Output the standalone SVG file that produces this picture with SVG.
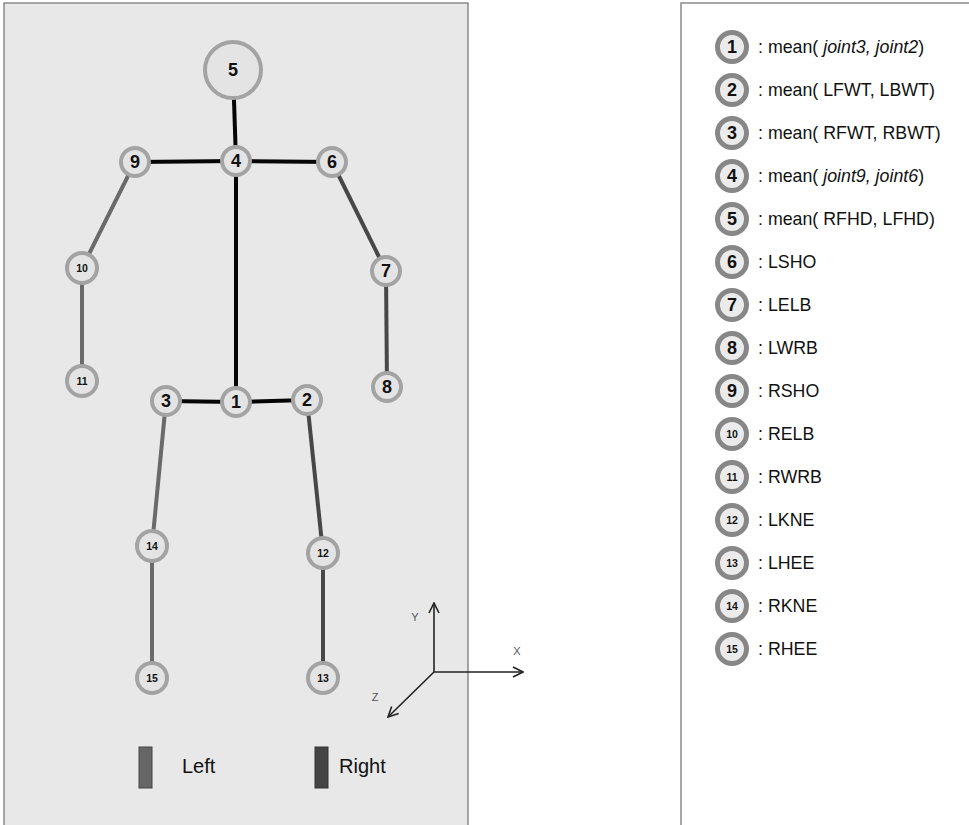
<svg xmlns="http://www.w3.org/2000/svg" width="969" height="825" viewBox="0 0 969 825">
  <style>
    .panel { fill: #e8e8e8; stroke: #8a8a8a; stroke-width: 1.5; }
    .key-panel { fill: #ffffff; stroke: #8a8a8a; stroke-width: 1.5; }
    .joint { fill: #e4e4e4; stroke: #a3a3a3; stroke-width: 4; }
    .key-joint { fill: #ebebeb; stroke: #878787; stroke-width: 5; }
    .num { font-family: "Liberation Sans", Arial, sans-serif; font-weight: bold; fill: #111; text-anchor: middle; dominant-baseline: central; }
    .big { font-size: 18px; }
    .small { font-size: 10.5px; }
    .bone { stroke-linecap: butt; stroke-width: 4; fill: none; }
    .spine { stroke: #050505; }
    .limb-a { stroke: #6a6a6a; }
    .limb-b { stroke: #474747; }
    .axis { stroke: #222; stroke-width: 1.6; fill: none; }
    .axis-label { font-family: "Liberation Sans", Arial, sans-serif; font-size: 11px; fill: #555; text-anchor: middle; dominant-baseline: central; }
    .legend-text { font-family: "Liberation Sans", Arial, sans-serif; font-size: 20px; fill: #111; }
    .key-text { font-family: "Liberation Sans", Arial, sans-serif; font-size: 17.8px; fill: #111; dominant-baseline: central; }
    .it { font-style: italic; }
  </style>
  <defs>
    <marker id="open-arrow" viewBox="0 0 12 12" refX="11" refY="6" markerWidth="12" markerHeight="12" markerUnits="userSpaceOnUse" orient="auto">
      <path d="M1,1 L11,6 L1,11" fill="none" stroke="#222" stroke-width="1.6"/>
    </marker>
  </defs>

  <!-- skeleton panel -->
  <rect class="panel" x="4" y="3" width="464" height="830"/>
  <!-- key panel -->
  <rect class="key-panel" x="681" y="3" width="300" height="830"/>

  <!-- bones -->
  <g id="connectors">
    <line class="bone spine" x1="233" y1="70" x2="236" y2="161"/>
    <line class="bone spine" x1="135" y1="162" x2="236" y2="161"/>
    <line class="bone spine" x1="236" y1="161" x2="332" y2="162"/>
    <line class="bone spine" x1="236" y1="161" x2="236" y2="402"/>
    <line class="bone spine" x1="166" y1="401" x2="236" y2="402"/>
    <line class="bone spine" x1="236" y1="402" x2="307" y2="400"/>
    <line class="bone limb-a" x1="135" y1="162" x2="82" y2="268"/>
    <line class="bone limb-a" x1="82" y1="268" x2="82" y2="381"/>
    <line class="bone limb-b" x1="332" y1="162" x2="386" y2="271"/>
    <line class="bone limb-b" x1="386" y1="271" x2="387" y2="387"/>
    <line class="bone limb-a" x1="166" y1="401" x2="152" y2="546"/>
    <line class="bone limb-a" x1="152" y1="546" x2="152" y2="678"/>
    <line class="bone limb-b" x1="307" y1="400" x2="323" y2="553"/>
    <line class="bone limb-b" x1="323" y1="553" x2="323" y2="678"/>
  </g>

  <!-- joints -->
  <g id="joint5"><circle class="joint" cx="233" cy="70" r="28"/><text class="num big" x="233" y="70">5</text></g>
  <g id="joint4"><circle class="joint" cx="236" cy="161" r="14"/><text class="num big" x="236" y="161">4</text></g>
  <g id="joint9"><circle class="joint" cx="135" cy="162" r="14"/><text class="num big" x="135" y="162">9</text></g>
  <g id="joint6"><circle class="joint" cx="332" cy="162" r="14"/><text class="num big" x="332" y="162">6</text></g>
  <g id="joint10"><circle class="joint" cx="82" cy="268" r="15"/><text class="num small" x="82" y="268">10</text></g>
  <g id="joint7"><circle class="joint" cx="386" cy="271" r="14"/><text class="num big" x="386" y="271">7</text></g>
  <g id="joint11"><circle class="joint" cx="82" cy="381" r="15"/><text class="num small" x="82" y="381">11</text></g>
  <g id="joint8"><circle class="joint" cx="387" cy="387" r="14"/><text class="num big" x="387" y="387">8</text></g>
  <g id="joint3"><circle class="joint" cx="166" cy="401" r="14"/><text class="num big" x="166" y="401">3</text></g>
  <g id="joint1"><circle class="joint" cx="236" cy="402" r="14"/><text class="num big" x="236" y="402">1</text></g>
  <g id="joint2"><circle class="joint" cx="307" cy="400" r="14"/><text class="num big" x="307" y="400">2</text></g>
  <g id="joint14"><circle class="joint" cx="152" cy="546" r="15"/><text class="num small" x="152" y="546">14</text></g>
  <g id="joint12"><circle class="joint" cx="323" cy="553" r="15"/><text class="num small" x="323" y="553">12</text></g>
  <g id="joint15"><circle class="joint" cx="152" cy="678" r="15"/><text class="num small" x="152" y="678">15</text></g>
  <g id="joint13"><circle class="joint" cx="323" cy="678" r="15"/><text class="num small" x="323" y="678">13</text></g>

  <!-- coordinate axes -->
  <g id="axes">
    <line class="axis" x1="434" y1="672" x2="434" y2="603" marker-end="url(#open-arrow)"/>
    <line class="axis" x1="434" y1="672" x2="523" y2="672" marker-end="url(#open-arrow)"/>
    <line class="axis" x1="434" y1="672" x2="388" y2="717" marker-end="url(#open-arrow)"/>
    <text class="axis-label" x="415" y="617">Y</text>
    <text class="axis-label" x="517" y="651">X</text>
    <text class="axis-label" x="375" y="697">Z</text>
  </g>

  <!-- side legend -->
  <g id="legend">
    <rect x="139" y="747" width="13" height="41" fill="#666" stroke="#444" stroke-width="1"/>
    <text class="legend-text" x="182" y="773">Left</text>
    <rect x="315" y="747" width="13" height="41" fill="#444" stroke="#333" stroke-width="1"/>
    <text class="legend-text" x="339" y="773">Right</text>
  </g>

  <!-- joint key -->
  <g id="key1"><circle class="key-joint" cx="732" cy="47" r="14.5"/><text class="num big" x="732" y="47">1</text><text class="key-text" x="758" y="47">: mean( <tspan class="it">joint3, joint2</tspan>)</text></g>
  <g id="key2"><circle class="key-joint" cx="732" cy="90" r="14.5"/><text class="num big" x="732" y="90">2</text><text class="key-text" x="758" y="90">: mean( LFWT, LBWT)</text></g>
  <g id="key3"><circle class="key-joint" cx="732" cy="133" r="14.5"/><text class="num big" x="732" y="133">3</text><text class="key-text" x="758" y="133">: mean( RFWT, RBWT)</text></g>
  <g id="key4"><circle class="key-joint" cx="732" cy="176" r="14.5"/><text class="num big" x="732" y="176">4</text><text class="key-text" x="758" y="176">: mean( <tspan class="it">joint9, joint6</tspan>)</text></g>
  <g id="key5"><circle class="key-joint" cx="732" cy="219" r="14.5"/><text class="num big" x="732" y="219">5</text><text class="key-text" x="758" y="219">: mean( RFHD, LFHD)</text></g>
  <g id="key6"><circle class="key-joint" cx="732" cy="262" r="14.5"/><text class="num big" x="732" y="262">6</text><text class="key-text" x="758" y="262">: LSHO</text></g>
  <g id="key7"><circle class="key-joint" cx="732" cy="305" r="14.5"/><text class="num big" x="732" y="305">7</text><text class="key-text" x="758" y="305">: LELB</text></g>
  <g id="key8"><circle class="key-joint" cx="732" cy="348" r="14.5"/><text class="num big" x="732" y="348">8</text><text class="key-text" x="758" y="348">: LWRB</text></g>
  <g id="key9"><circle class="key-joint" cx="732" cy="391" r="14.5"/><text class="num big" x="732" y="391">9</text><text class="key-text" x="758" y="391">: RSHO</text></g>
  <g id="key10"><circle class="key-joint" cx="732" cy="434" r="14.5"/><text class="num small" x="732" y="434">10</text><text class="key-text" x="758" y="434">: RELB</text></g>
  <g id="key11"><circle class="key-joint" cx="732" cy="477" r="14.5"/><text class="num small" x="732" y="477">11</text><text class="key-text" x="758" y="477">: RWRB</text></g>
  <g id="key12"><circle class="key-joint" cx="732" cy="520" r="14.5"/><text class="num small" x="732" y="520">12</text><text class="key-text" x="758" y="520">: LKNE</text></g>
  <g id="key13"><circle class="key-joint" cx="732" cy="563" r="14.5"/><text class="num small" x="732" y="563">13</text><text class="key-text" x="758" y="563">: LHEE</text></g>
  <g id="key14"><circle class="key-joint" cx="732" cy="606" r="14.5"/><text class="num small" x="732" y="606">14</text><text class="key-text" x="758" y="606">: RKNE</text></g>
  <g id="key15"><circle class="key-joint" cx="732" cy="649" r="14.5"/><text class="num small" x="732" y="649">15</text><text class="key-text" x="758" y="649">: RHEE</text></g>
</svg>
